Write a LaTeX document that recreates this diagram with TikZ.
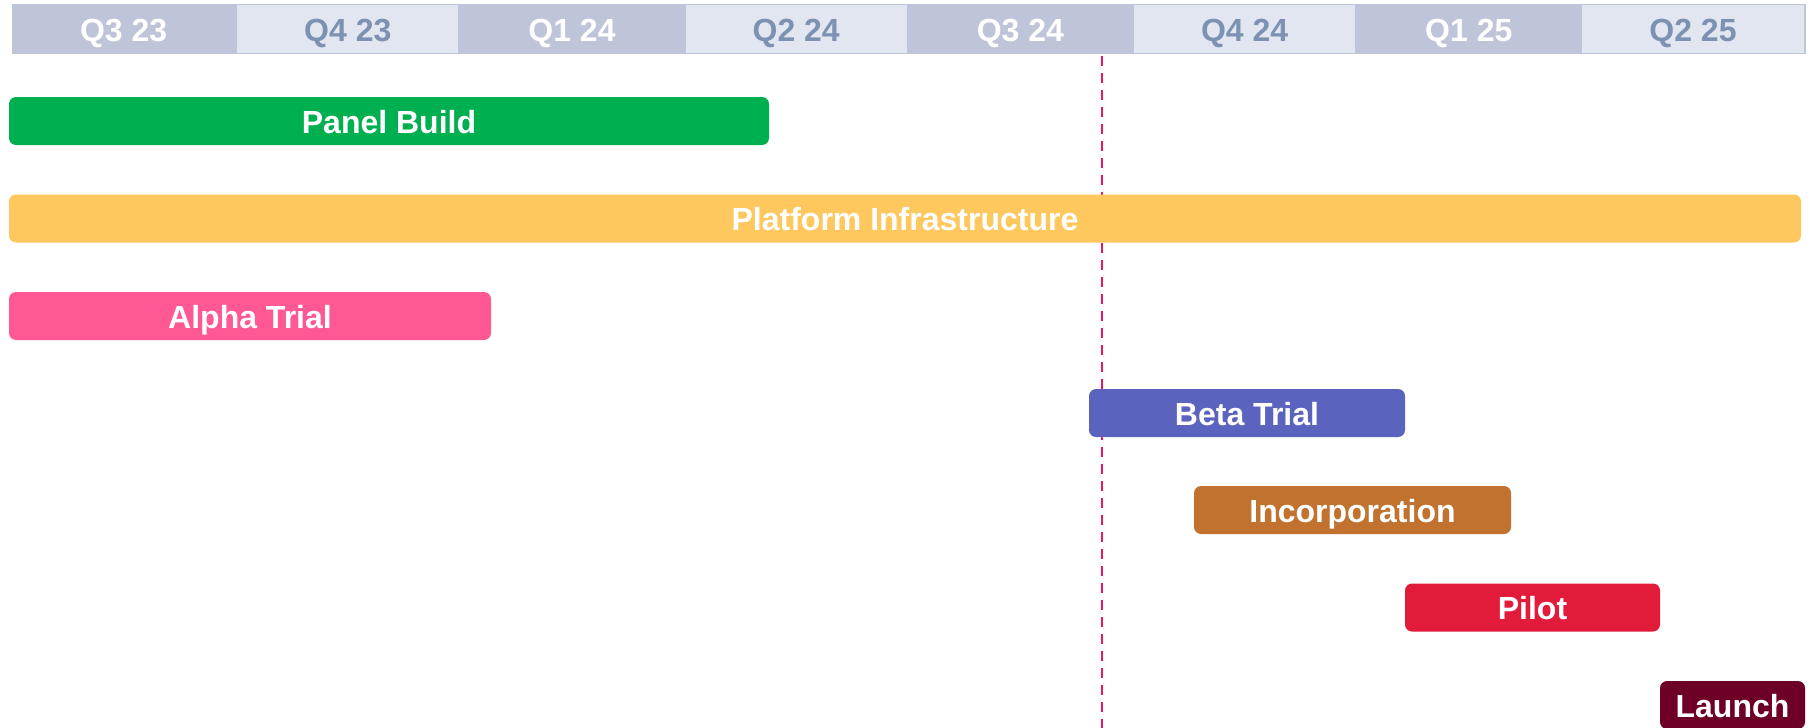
\documentclass[tikz,border=0pt]{standalone}
\usepackage{fontspec}
\setmainfont{Liberation Sans}
\definecolor{hdrdark}{HTML}{BEC5D8}
\definecolor{hdrlight}{HTML}{E1E6F1}
\definecolor{hdrtext}{HTML}{7D91B2}
\definecolor{cgreen}{HTML}{00B050}
\definecolor{cyellow}{HTML}{FFC85F}
\definecolor{cpink}{HTML}{FF5894}
\definecolor{cblue}{HTML}{5A63BD}
\definecolor{cbrown}{HTML}{C0722E}
\definecolor{cred}{HTML}{E31B3A}
\definecolor{cmaroon}{HTML}{6E0028}
\definecolor{cnow}{HTML}{EE1560}
\tikzset{
  hdrlabel/.style={font=\fontsize{16}{19}\selectfont\bfseries, inner sep=0pt, anchor=base},
  barbox/.style={rounded corners=3.5pt},
  barlabel/.style={font=\fontsize{16}{19}\selectfont\bfseries, text=white, inner sep=0pt, anchor=base},
  nowline/.style={draw=cnow, line width=1.25pt, dash pattern=on 5pt off 3.5pt},
}
% one quarter column: #1 index, #2 label, #3 light (1) or dark (0)
\newcommand{\qcell}[3]{%
  \pgfmathsetmacro{\qa}{11.5+#1*224.2}%
  \pgfmathsetmacro{\qb}{11.5+(#1+1)*224.2}%
  \pgfmathsetmacro{\qm}{11.5+(#1+0.5)*224.2}%
  \ifnum#3=1
    \fill[hdrlight] (\qa+1.5,5) rectangle (\qb-1.5,52.5);
    \node[hdrlabel, text=hdrtext] (q#1) at (\qm,41.5) {#2};
  \else
    \node[hdrlabel, text=white] (q#1) at (\qm,41.5) {#2};
  \fi
}
% one task bar: #1 name, #2 x start, #3 x end, #4 y top, #5 colour, #6 label
\newcommand{\taskbar}[6]{%
  \fill[barbox, #5] (#2,#4) rectangle (#3,#4+48);
  \node[barlabel] (#1) at ({(#2+#3)/2},#4+36) {#6};
}
\begin{document}
\begin{tikzpicture}[x=0.5pt,y=-0.5pt]
  \useasboundingbox (0,0) rectangle (1810,728);
  % quarter header band
  \fill[hdrdark] (11.5,3.5) rectangle (1806,54);
  \qcell{0}{Q3 23}{0}
  \qcell{1}{Q4 23}{1}
  \qcell{2}{Q1 24}{0}
  \qcell{3}{Q2 24}{1}
  \qcell{4}{Q3 24}{0}
  \qcell{5}{Q4 24}{1}
  \qcell{6}{Q1 25}{0}
  \qcell{7}{Q2 25}{1}
  % current date marker
  \coordinate (nowtop) at (1102,56);
  \coordinate (nowbottom) at (1102,728);
  \draw[nowline] (nowtop) -- (nowbottom);
  % task bars
  \taskbar{panel}{9}{769}{97}{cgreen}{Panel Build}
  \taskbar{platform}{9}{1801}{194.5}{cyellow}{Platform Infrastructure}
  \taskbar{alpha}{9}{491}{292}{cpink}{Alpha Trial}
  \taskbar{beta}{1089}{1405}{389}{cblue}{Beta Trial}
  \taskbar{incorp}{1194}{1511}{486}{cbrown}{Incorporation}
  \taskbar{pilot}{1405}{1660}{583.5}{cred}{Pilot}
  \taskbar{launch}{1660}{1805}{681}{cmaroon}{Launch}
\end{tikzpicture}
\end{document}
